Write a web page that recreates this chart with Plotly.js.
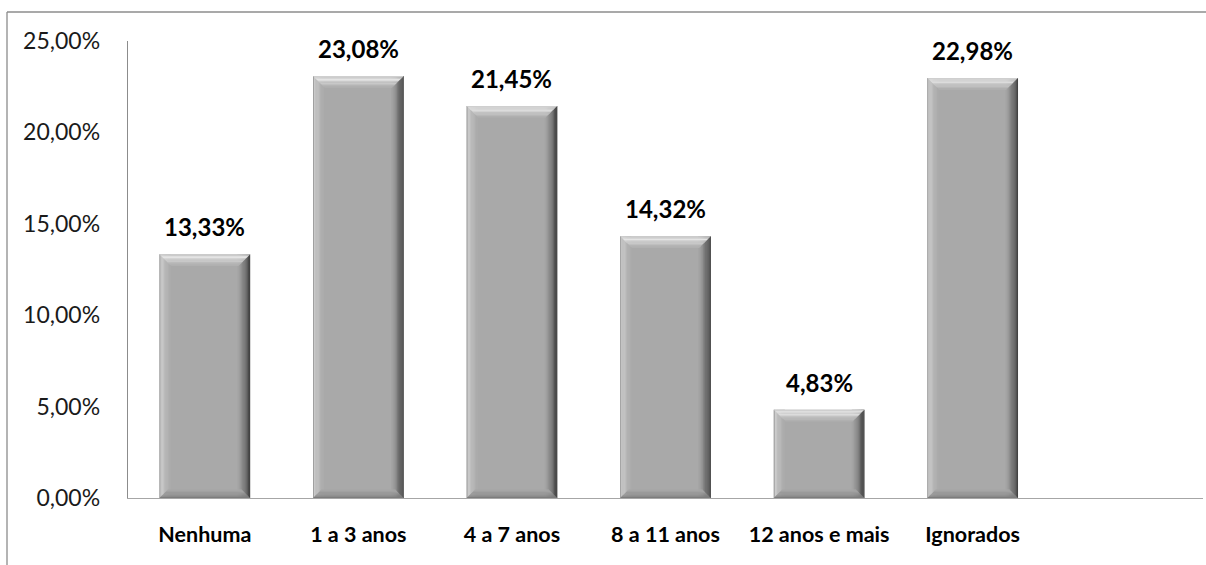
<!DOCTYPE html>
<html>
<head>
<meta charset="utf-8">
<script src="https://cdn.plot.ly/plotly-3.0.1.min.js"></script>
<style>
html,body{margin:0;padding:0;background:#fff;}
#chart{width:1206px;height:565px;}
</style>
</head>
<body>
<div id="chart"></div>
<script>
// ---- data ----
const categories = ["Nenhuma", "1 a 3 anos", "4 a 7 anos", "8 a 11 anos", "12 anos e mais", "Ignorados"];
const values = [13.33, 23.08, 21.45, 14.32, 4.83, 22.98];
const yTickVals = [0, 5, 10, 15, 20, 25];

// ---- styling ----
const FONT = "Lato, 'Open Sans', sans-serif";
const fmt = (v) => v.toFixed(2).replace(".", ",") + "%";
const idx = categories.map((c, i) => i);
const plotW = 1206 - 128 - 3;
const nSlots = 7;
const PX = nSlots / plotW;       // one pixel in x data units
const BW = 0.59;                 // bar width in category units
const HALF = BW / 2;

const traces = [];
// main face
traces.push({
  type: "bar", x: idx, y: values, width: BW,
  marker: {color: "#a9a9a9", line: {width: 0}},
  hoverinfo: "skip", showlegend: false
});
// left bevel strips (edge -> inner)
const leftCols = ["#a0a0a0", "#cbcbcb", "#c7c7c7", "#c2c2c2", "#bdbdbd", "#b8b8b8", "#b3b3b3", "#afafaf", "#acacac"];
const LS = 1.25;
leftCols.forEach((c, k) => {
  const w = k === 0 ? 1 : LS;
  const off = k === 0 ? 0 : 1 + (k - 1) * LS;
  traces.push({
    type: "bar", x: idx, y: values, width: w * PX + 0.0005, offset: -HALF + off * PX,
    marker: {color: c, line: {width: 0}}, hoverinfo: "skip", showlegend: false
  });
});
// right bevel strips (inner -> edge)
const rightCols = ["#a5a5a5", "#a0a0a0", "#999999", "#909090", "#868686", "#7b7b7b", "#6f6f6f", "#636363", "#575757", "#4c4c4c", "#434343"];
const RS = 1.15;
rightCols.forEach((c, k) => {
  const n = rightCols.length;
  const off = (n - k) * RS;
  traces.push({
    type: "bar", x: idx, y: values, width: RS * PX + 0.0005, offset: HALF - off * PX,
    marker: {color: c, line: {width: 0}}, hoverinfo: "skip", showlegend: false
  });
});

const shapes = [];
// top bevel bands (outer -> inner), trapezoids in pixel y relative to bar top
const topCols = ["#cfcfcf", "#dedede", "#e4e4e4", "#dcdcdc", "#d2d2d2", "#c8c8c8", "#bfbfbf", "#b7b7b7", "#b0b0b0"];
const topStep = 1.3;
const botCols = ["#7c7c7c", "#848484", "#8c8c8c", "#939393", "#9a9a9a", "#a1a1a1", "#a6a6a6"];
const botStep = 1.2;
idx.forEach((i) => {
  const v = values[i];
  topCols.forEach((c, k) => {
    const d0 = k * topStep, d1 = (k + 1) * topStep;
    const xl0 = i - HALF + d0 * PX, xr0 = i + HALF - d0 * PX;
    const xl1 = i - HALF + d1 * PX, xr1 = i + HALF - d1 * PX;
    shapes.push({
      type: "path", xref: "x", yref: "y", ysizemode: "pixel", yanchor: v,
      path: `M ${xl0},${-d0} L ${xr0},${-d0} L ${xr1},${-d1} L ${xl1},${-d1} Z`,
      fillcolor: c, line: {width: 0}, layer: "above"
    });
  });
  botCols.forEach((c, k) => {
    const d0 = k * botStep, d1 = (k + 1) * botStep;
    const xl0 = i - HALF + d0 * PX, xr0 = i + HALF - d0 * PX;
    const xl1 = i - HALF + d1 * PX, xr1 = i + HALF - d1 * PX;
    shapes.push({
      type: "path", xref: "x", yref: "y", ysizemode: "pixel", yanchor: 0,
      path: `M ${xl0},${d0} L ${xr0},${d0} L ${xr1},${d1} L ${xl1},${d1} Z`,
      fillcolor: c, line: {width: 0}, layer: "above"
    });
  });
});

// chart-area border (top and left only visible)
const pl = 128, pt = 41, ph = 565 - 41 - 67;
shapes.push({type: "line", xref: "paper", yref: "paper",
  x0: (7 - pl) / plotW, x1: 1.01, y0: 1 + (pt - 12) / ph, y1: 1 + (pt - 12) / ph,
  line: {color: "#8c8c8c", width: 1.3}, layer: "below"});
shapes.push({type: "line", xref: "paper", yref: "paper",
  x0: (7 - pl) / plotW, x1: (7 - pl) / plotW, y0: 1 + (pt - 12) / ph, y1: -0.2,
  line: {color: "#8c8c8c", width: 1.3}, layer: "below"});

// value labels
const annotations = idx.map((i) => ({
  x: i, y: values[i], xref: "x", yref: "y",
  text: fmt(values[i]),
  showarrow: false, yanchor: "bottom", yshift: 11,
  font: {family: FONT, size: 24, color: "#000", weight: "bold"}
}));

const layout = {
  width: 1206, height: 565,
  margin: {l: 128, r: 3, t: 41, b: 67},
  paper_bgcolor: "#fff", plot_bgcolor: "#fff",
  barmode: "overlay",
  showlegend: false,
  font: {family: FONT, color: "#000"},
  xaxis: {
    type: "linear", range: [-0.5, nSlots - 0.5],
    tickvals: idx, ticktext: categories,
    showgrid: false, zeroline: false, showline: true,
    linecolor: "#a6a6a6", linewidth: 1.3, ticks: "",
    ticklabelstandoff: 17,
    tickfont: {family: FONT, size: 21.5, color: "#000", weight: "bold"},
    fixedrange: true
  },
  yaxis: {
    range: [0, 25], tickvals: yTickVals, ticktext: yTickVals.map(fmt),
    showgrid: false, zeroline: false, showline: true,
    linecolor: "#8c8c8c", linewidth: 1.3, ticks: "",
    ticklabelstandoff: 22,
    tickfont: {family: FONT, size: 23, color: "#1a1a1a"},
    fixedrange: true
  },
  shapes: shapes,
  annotations: annotations
};

Plotly.newPlot("chart", traces, layout, {displayModeBar: false, staticPlot: true});
</script>
</body>
</html>
